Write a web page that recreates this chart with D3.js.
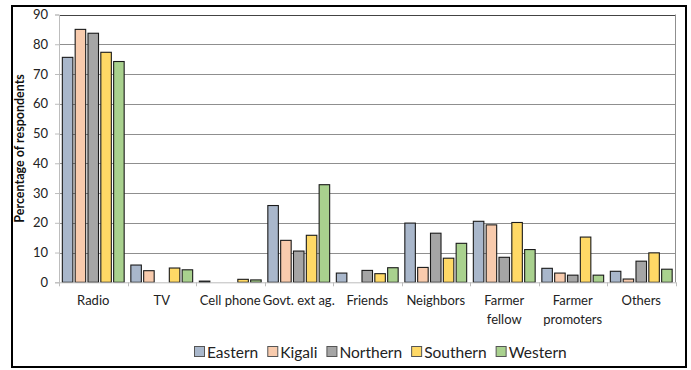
<!DOCTYPE html>
<html>
<head>
<meta charset="utf-8">
<script src="https://cdn.jsdelivr.net/npm/d3@7"></script>
<style>
  html, body { margin: 0; padding: 0; background: #fff; }
  svg { display: block; font-family: Lato, "Liberation Sans", sans-serif; }
</style>
</head>
<body>
<svg id="chart" width="691" height="370"></svg>
<script>
// Sources of agricultural information by province (% of respondents)
const categories = ["Radio", "TV", "Cell phone", "Govt. ext ag.", "Friends", "Neighbors", "Farmer fellow", "Farmer promoters", "Others"];
const categoryLines = [["Radio"], ["TV"], ["Cell phone"], ["Govt. ext ag."], ["Friends"], ["Neighbors"], ["Farmer", "fellow"], ["Farmer", "promoters"], ["Others"]];
const seriesNames = ["Eastern", "Kigali", "Northern", "Southern", "Western"];
const seriesColors = ["#A9B7CB", "#F8CBAD", "#A5A5A5", "#FFD966", "#A9D18E"];
const eastern  = [75.6, 5.8, 0.4, 25.8, 3.1, 19.9, 20.5, 4.7, 3.7];
const kigali   = [85.0, 3.9, 0.0, 14.1, 0.0, 5.0, 19.3, 3.1, 1.1];
const northern = [83.7, 0.0, 0.0, 10.5, 4.0, 16.5, 8.4, 2.4, 7.1];
const southern = [77.3, 4.8, 1.0, 15.8, 2.9, 8.1, 20.1, 15.2, 9.9];
const western  = [74.2, 4.2, 0.8, 32.8, 4.9, 13.1, 11.0, 2.4, 4.4];
const yTicks = [0, 10, 20, 30, 40, 50, 60, 70, 80, 90];
const yTitle = "Percentage of respondents";

const seriesValues = [eastern, kigali, northern, southern, western];

const svg = d3.select("#chart");
const W = 691, H = 370;
const plot = { left: 59, right: 675.5, top: 14.5, bottom: 282.3 };

// outer frame
svg.append("rect")
  .attr("x", 12).attr("y", 6)
  .attr("width", 674).attr("height", 361)
  .attr("fill", "#fff").attr("stroke", "#000").attr("stroke-width", 2);

const x0 = d3.scaleBand().domain(categories).range([plot.left, plot.right]).padding(0);
const x1 = d3.scaleBand().domain(seriesNames).range([0, x0.bandwidth()])
  .paddingInner(0.18).paddingOuter(0.26);
const y = d3.scaleLinear().domain([0, 90]).range([plot.bottom, plot.top]);

// gridlines
svg.append("g").selectAll("line").data(yTicks.filter(t => t > 0)).join("line")
  .attr("x1", plot.left).attr("x2", plot.right)
  .attr("y1", d => Math.round(y(d)) + 0.5).attr("y2", d => Math.round(y(d)) + 0.5)
  .attr("stroke", d => d === 90 ? "#444" : "#8f8f8f").attr("stroke-width", 1);

// plot area right border
svg.append("line")
  .attr("x1", plot.right).attr("x2", plot.right)
  .attr("y1", y(90)).attr("y2", plot.bottom)
  .attr("stroke", "#8f8f8f");

// y axis
const yAxis = d3.axisLeft(y).tickValues(yTicks).tickSize(4).tickPadding(7);
const gy = svg.append("g").attr("transform", `translate(${plot.left},0)`).call(yAxis);
gy.select(".domain").attr("stroke", "#bdbdbd");
gy.selectAll(".tick line").attr("stroke", "#bdbdbd");
gy.selectAll(".tick text").attr("font-size", 13).attr("fill", "#222")
  .attr("font-family", "Lato, sans-serif");

// bars
const barData = [];
categories.forEach((c, i) => {
  seriesNames.forEach((s, j) => {
    barData.push({ cat: c, series: s, value: seriesValues[j][i], color: seriesColors[j] });
  });
});
svg.append("g").selectAll("rect").data(barData.filter(d => d.value > 0)).join("rect")
  .attr("x", d => x0(d.cat) + x1(d.series))
  .attr("y", d => y(d.value))
  .attr("width", x1.bandwidth())
  .attr("height", d => y(0) - y(d.value))
  .attr("fill", d => d.color)
  .attr("stroke", "#1a1a1a")
  .attr("stroke-width", 1.1);

// x axis
const xAxis = d3.axisBottom(x0).tickSize(0).tickFormat(() => "");
const gx = svg.append("g").attr("transform", `translate(0,${plot.bottom})`).call(xAxis);
gx.select(".domain").attr("stroke", "#bdbdbd");
svg.append("g").selectAll("line").data(categories.map(c => x0(c)).concat([plot.right])).join("line")
  .attr("x1", d => Math.round(d) + 0.5).attr("x2", d => Math.round(d) + 0.5)
  .attr("y1", plot.bottom).attr("y2", plot.bottom + 4)
  .attr("stroke", "#bdbdbd");

// category labels
const labels = svg.append("g").selectAll("text").data(categories).join("text")
  .attr("x", d => x0(d) + x0.bandwidth() / 2)
  .attr("y", 305)
  .attr("text-anchor", "middle")
  .attr("font-size", 13)
  .attr("fill", "#222");
labels.each(function(d, i) {
  d3.select(this).selectAll("tspan").data(categoryLines[i]).join("tspan")
    .attr("x", x0(d) + x0.bandwidth() / 2)
    .attr("dy", (t, k) => k === 0 ? 0 : 19)
    .text(t => t);
});

// y axis title
svg.append("text")
  .attr("transform", `translate(24,${(plot.top + plot.bottom) / 2}) rotate(-90)`)
  .attr("text-anchor", "middle")
  .attr("font-size", 12.5)
  .attr("font-weight", "bold")
  .attr("fill", "#111")
  .text(yTitle);

// legend
const legendY = 352;
const legend = svg.append("g");
let lx = 194;
seriesNames.forEach((s, j) => {
  const g = legend.append("g").attr("transform", `translate(${lx},${legendY})`);
  g.append("rect").attr("x", 0.5).attr("y", -5.5).attr("width", 10).attr("height", 10)
    .attr("fill", seriesColors[j]).attr("stroke", "#555").attr("stroke-width", 1);
  const t = g.append("text").attr("x", 13).attr("y", 5.5)
    .attr("font-size", 15.5).attr("fill", "#222").text(s);
  lx += 13 + t.node().getComputedTextLength() + 9;
});
</script>
</body>
</html>
